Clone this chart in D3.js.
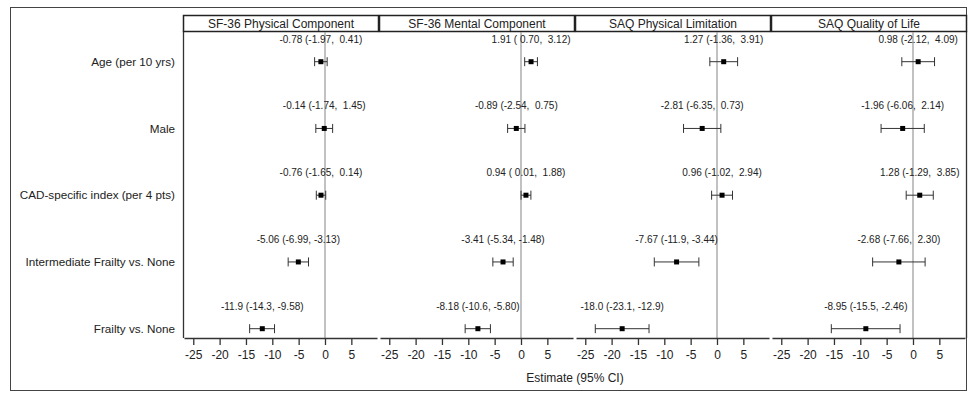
<!DOCTYPE html>
<html>
<head>
<meta charset="utf-8">
<script src="https://cdn.jsdelivr.net/npm/d3@7"></script>
<style>
  body { margin: 0; background: #fff; }
  text { font-family: "Liberation Sans", Arial, sans-serif; fill: #222; }
</style>
</head>
<body>
<div id="chart"></div>
<script>
const categories = ["Age (per 10 yrs)", "Male", "CAD-specific index (per 4 pts)", "Intermediate Frailty vs. None", "Frailty vs. None"];
const outcomes = ["SF-36 Physical Component", "SF-36 Mental Component", "SAQ Physical Limitation", "SAQ Quality of Life"];

// estimate, lower and upper CI, one array per outcome (rows follow categories)
const sf36PhysEst = [-0.78, -0.14, -0.76, -5.06, -11.9];
const sf36PhysLo  = [-1.97, -1.74, -1.65, -6.99, -14.3];
const sf36PhysHi  = [0.41, 1.45, 0.14, -3.13, -9.58];

const sf36MentEst = [1.91, -0.89, 0.94, -3.41, -8.18];
const sf36MentLo  = [0.70, -2.54, 0.01, -5.34, -10.6];
const sf36MentHi  = [3.12, 0.75, 1.88, -1.48, -5.80];

const saqPhysEst = [1.27, -2.81, 0.96, -7.67, -18.0];
const saqPhysLo  = [-1.36, -6.35, -1.02, -11.9, -23.1];
const saqPhysHi  = [3.91, 0.73, 2.94, -3.44, -12.9];

const saqQolEst = [0.98, -1.96, 1.28, -2.68, -8.95];
const saqQolLo  = [-2.12, -6.06, -1.29, -7.66, -15.5];
const saqQolHi  = [4.09, 2.14, 3.85, 2.30, -2.46];

const xTicks = [-25, -20, -15, -10, -5, 0, 5];

const panels = [
  { est: sf36PhysEst, lo: sf36PhysLo, hi: sf36PhysHi },
  { est: sf36MentEst, lo: sf36MentLo, hi: sf36MentHi },
  { est: saqPhysEst, lo: saqPhysLo, hi: saqPhysHi },
  { est: saqQolEst, lo: saqQolLo, hi: saqQolHi }
];

var width = 968, height = 393;
var plotLeft = 183, plotRight = 967;
var headerTop = 15, headerBottom = 31, axisY = 338;
var panelW = (plotRight - plotLeft) / outcomes.length;

var svg = d3.select("#chart").append("svg")
  .attr("width", width)
  .attr("height", height);

// outer frame
svg.append("rect")
  .attr("x", 10.5).attr("y", 7.5)
  .attr("width", 956).attr("height", 383)
  .style("fill", "none").style("stroke", "#444").style("stroke-width", 1);

var y = d3.scalePoint()
  .domain(categories)
  .range([61.7, 328.7]);

function fmt(v) {
  return Math.abs(v) >= 10 ? v.toFixed(1) : v.toFixed(2);
}
function fmtCi(v) {
  return v < 0 ? fmt(v) : " " + fmt(v);
}

// row labels
svg.append("g").selectAll("text")
  .data(categories)
  .join("text")
  .attr("x", 175)
  .attr("y", d => y(d))
  .attr("dy", "0.35em")
  .attr("text-anchor", "end")
  .style("font-size", "11.7px")
  .text(d => d);

// data area left / right borders
svg.append("line")
  .attr("x1", plotLeft + 0.5).attr("x2", plotLeft + 0.5)
  .attr("y1", headerBottom).attr("y2", axisY)
  .style("stroke", "#333").style("stroke-width", 1.3);
svg.append("line")
  .attr("x1", plotRight - 0.5).attr("x2", plotRight - 0.5)
  .attr("y1", headerBottom).attr("y2", axisY)
  .style("stroke", "#333").style("stroke-width", 1.3);

outcomes.forEach(function(name, i) {
  var left = plotLeft + i * panelW;
  var p = panels[i];
  var x = d3.scaleLinear().domain([-26.95, 10.25]).range([left, left + panelW]);
  var g = svg.append("g");

  // header cell
  g.append("rect")
    .attr("x", left + 0.5).attr("y", headerTop + 0.5)
    .attr("width", panelW - 1).attr("height", headerBottom - headerTop)
    .style("fill", "#fff").style("stroke", "#222").style("stroke-width", 1.5);
  g.append("text")
    .attr("x", left + panelW / 2)
    .attr("y", (headerTop + headerBottom) / 2 + 1)
    .attr("dy", "0.35em")
    .attr("text-anchor", "middle")
    .style("font-size", "12px")
    .text(name);

  // reference line at zero
  g.append("line")
    .attr("x1", x(0)).attr("x2", x(0))
    .attr("y1", headerBottom + 1).attr("y2", axisY)
    .style("stroke", "#999").style("stroke-width", 1.2);

  // axis
  var axis = g.append("g")
    .attr("transform", "translate(0," + axisY + ")")
    .call(d3.axisBottom(x).tickValues(xTicks).tickSize(7).tickSizeOuter(0).tickFormat(d => String(d)));
  axis.select(".domain")
    .attr("d", "M" + (left + 1.5) + ",0.5H" + (left + panelW - 1.5))
    .style("stroke", "#333").style("stroke-width", 1.3);
  axis.selectAll(".tick line").style("stroke", "#333").style("stroke-width", 1.3);
  axis.selectAll(".tick text")
    .attr("y", 12)
    .style("font-size", "12px")
    .style("font-family", "\"Liberation Sans\", Arial, sans-serif")
    .style("fill", "#222");

  var rows = categories.map((c, k) => ({ cat: c, est: p.est[k], lo: p.lo[k], hi: p.hi[k] }));

  // CI lines
  g.selectAll(".ci").data(rows).join("line")
    .attr("x1", d => x(d.lo)).attr("x2", d => x(d.hi))
    .attr("y1", d => y(d.cat)).attr("y2", d => y(d.cat))
    .style("stroke", "#333").style("stroke-width", 1);
  g.selectAll(".capL").data(rows).join("line")
    .attr("x1", d => x(d.lo)).attr("x2", d => x(d.lo))
    .attr("y1", d => y(d.cat) - 4.5).attr("y2", d => y(d.cat) + 4.5)
    .style("stroke", "#333").style("stroke-width", 1);
  g.selectAll(".capR").data(rows).join("line")
    .attr("x1", d => x(d.hi)).attr("x2", d => x(d.hi))
    .attr("y1", d => y(d.cat) - 4.5).attr("y2", d => y(d.cat) + 4.5)
    .style("stroke", "#333").style("stroke-width", 1);

  // point estimates
  g.selectAll(".pt").data(rows).join("rect")
    .attr("x", d => x(d.est) - 2.5)
    .attr("y", d => y(d.cat) - 2.5)
    .attr("width", 5).attr("height", 5)
    .style("fill", "#000");

  // estimate labels
  g.selectAll(".lbl").data(rows).join("text")
    .attr("x", d => x(d.est))
    .attr("y", d => y(d.cat) - 19)
    .attr("text-anchor", "middle")
    .style("font-size", "10px")
    .style("white-space", "pre")
    .text(d => fmt(d.est) + " (" + fmtCi(d.lo) + ", " + fmtCi(d.hi) + ")");
});

svg.append("text")
  .attr("x", (plotLeft + plotRight) / 2)
  .attr("y", 378)
  .attr("dy", "0.35em")
  .attr("text-anchor", "middle")
  .style("font-size", "12px")
  .text("Estimate (95% CI)");
</script>
</body>
</html>
